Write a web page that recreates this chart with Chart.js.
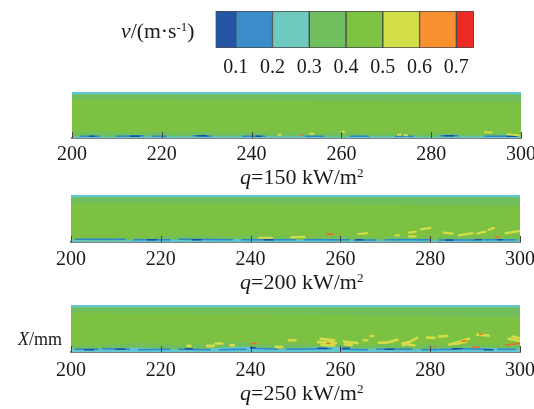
<!DOCTYPE html>
<html><head><meta charset="utf-8">
<script src="https://cdn.jsdelivr.net/npm/chart.js@4"></script>
<style>
html,body{margin:0;padding:0;background:#fff;width:534px;height:409px;overflow:hidden}
canvas{position:absolute;left:0;filter:blur(.45px)}
.t{position:absolute;font-family:"Liberation Serif",serif;color:#1a1a1a;white-space:nowrap;line-height:1}
.t sup{font-size:.6em;line-height:0;vertical-align:baseline;position:relative;top:-.55em}
</style></head><body>
<canvas id="cb" style="top:0" width="534" height="85"></canvas>
<canvas id="p1" style="top:92px" width="570" height="80"></canvas>
<canvas id="p2" style="top:195px" width="570" height="81"></canvas>
<canvas id="p3" style="top:305px" width="570" height="81"></canvas>
<div class="t" style="left:121px;top:21px;font-size:21.7px"><i>v</i>/(m·s<sup>-1</sup>)</div>
<div class="t" style="left:240px;top:166px;font-size:22px"><i>q</i>=150 kW/m<sup>2</sup></div>
<div class="t" style="left:240px;top:271px;font-size:22px"><i>q</i>=200 kW/m<sup>2</sup></div>
<div class="t" style="left:240px;top:382px;font-size:22px"><i>q</i>=250 kW/m<sup>2</sup></div>
<div class="t" style="left:18px;top:330px;font-size:18px"><i>X</i>/mm</div>
<script>
// colour bar
const cbEdges=[0.045,0.1,0.2,0.3,0.4,0.5,0.6,0.7,0.748];
const cbColors=['#2455a4','#3a8ccb','#6ecabf','#70bf5f','#7ec242','#d2df48','#f8912f','#ee2a26'];
const cbTicks=[0.1,0.2,0.3,0.4,0.5,0.6,0.7];
// axis
const xTicks=[200,220,240,260,280,300];
// contour band outlines, sampled along X
const bandX=[200,205,210,215,220,225,230,235,240,245,250,255,260,265,270,275,280,285,290,295,300];
const q150Upper=[.83,.83,.83,.83,.83,.82,.82,.82,.82,.81,.81,.80,.80,.80,.79,.78,.78,.78,.78,.78,.78];
const q150Lower=[.10,.14,.13,.11,.14,.12,.14,.11,.13,.11,.12,.10,.14,.10,.11,.09,.10,.11,.09,.11,.10];
const q150Cyan=[.03,.03,.02,.03,.04,.03,.04,.03,.03,.03,.03,.03,.02,.03,.03,.03,.02,.03,.03,.03,.02];
const q200Upper=[.82,.83,.83,.83,.82,.82,.82,.81,.81,.81,.80,.80,.80,.79,.79,.78,.78,.78,.78,.77,.77];
const q200Lower=[.09,.09,.08,.09,.12,.13,.14,.12,.15,.12,.14,.11,.13,.11,.10,.12,.09,.12,.11,.10,.11];
const q200Cyan=[.04,.03,.03,.04,.06,.04,.04,.06,.05,.04,.04,.04,.03,.04,.03,.04,.03,.04,.05,.04,.03];
const q250Upper=[.84,.84,.83,.83,.83,.83,.82,.82,.81,.81,.80,.79,.79,.78,.77,.77,.76,.76,.75,.75,.75];
const q250Lower=[.15,.14,.17,.19,.17,.15,.17,.21,.19,.16,.18,.15,.19,.14,.17,.14,.16,.14,.17,.14,.19];
const q250Cyan=[.07,.06,.08,.09,.07,.06,.07,.10,.11,.07,.08,.10,.10,.07,.08,.06,.07,.08,.09,.08,.07];
// near-wall and plume streaks: [xStart, xEnd, yStart, yEnd]
const q150Blue=[[202,206,.04,.04],[210,216,.04,.05],[218,221,.04,.04],[227,231,.05,.04],[238,243,.04,.04],[252,256,.04,.04],[262,266,.04,.04],[272,276,.04,.04],[282,286,.05,.05],[292,299,.04,.04]];
const q150Dark=[[204,205,.04,.04],[213,215,.04,.04],[228,230,.05,.05],[241,242,.04,.04],[283,285,.05,.05],[297,299,.04,.04]];
const q150Yellow=[[253,253.8,.09,.09],[260,260.6,.13,.13],[272.5,273.2,.07,.07],[274,274.6,.06,.06],[292,293.5,.13,.12],[297,299.5,.08,.06],[246,246.5,.07,.07]];
const q150Hot=[[251,251.3,.06,.06]];
const q200Blue=[[201,212,.06,.06],[214,222,.05,.05],[224,236,.06,.05],[238,250,.05,.05],[252,262,.05,.05],[263,268,.04,.04],[270,280,.05,.05],[282,290,.04,.04],[292,299,.05,.05]];
const q200Dark=[[217,219,.05,.05],[227,229,.05,.05],[243,245,.05,.05],[263.5,265,.05,.05],[283.5,285,.04,.04],[290,291.5,.05,.05],[295,296,.05,.05]];
const q200Yellow=[[264,266,.17,.19],[275.3,276.8,.2,.22],[275.3,276.8,.12,.12],[277.9,280,.27,.30],[272.3,273,.14,.14],[283,285,.2,.18],[286.4,289.4,.14,.19],[290.5,292.3,.18,.22],[293,294.2,.26,.30],[296.8,299.8,.19,.23],[241.8,244.8,.09,.09],[249,252,.1,.11]];
const q200Hot=[[257,258.4,.165,.165],[294.5,295.3,.107,.107]];
const q250Blue=[[201,206,.06,.06],[207,213,.07,.06],[215,222,.05,.06],[224,231,.06,.05],[233,239,.05,.06],[240,246,.08,.06],[248,258,.06,.07],[260,266,.06,.05],[268,276,.06,.06],[278,286,.05,.06],[287,293,.07,.06],[295,299,.06,.06]];
const q250Dark=[[203,205,.05,.05],[210,212,.06,.06],[225.5,227,.07,.07],[240,241,.09,.09],[255,257,.08,.08],[260.5,262,.08,.08],[270,272,.06,.06],[285,287,.07,.07],[292,294,.05,.05]];
const q250Yellow=[[226,226.6,.13,.13],[230.3,231.8,.13,.13],[232.2,233.7,.18,.18],[235.5,236.3,.14,.14],[245.6,247,.11,.11],[248.5,250,.25,.25],[255.6,258.6,.28,.25],[255,259,.21,.19],[255.8,258.6,.15,.14],[260.8,263.8,.22,.19],[261,262.5,.16,.15],[265.2,266,.25,.25],[266.7,267.3,.34,.34],[268.6,270.5,.2,.2],[270.5,272.7,.2,.26],[273.8,275.5,.18,.22],[274,277.1,.14,.3],[274.5,276.5,.17,.14],[279.3,281,.31,.3],[282,283.8,.33,.34],[284.2,286,.16,.2],[286,288.6,.2,.28],[285.5,288,.17,.22],[290.5,293,.37,.35],[297.5,299.8,.28,.24],[298.3,299.8,.33,.3]];
const q250Hot=[[240.3,241.3,.18,.18],[257,257.6,.18,.18],[287,288,.23,.24],[289.4,290.8,.1,.1],[291,291.6,.38,.38],[296.8,299.8,.15,.18],[280.8,281.2,.11,.11]];

const COL={main:'#7cc142',band:'#71bf5c',cyan:'#62c5cf',blue:'#2f86c8',dark:'#1d4ea0',yellow:'#d3dd47',hot:'#f2652b'};
const inwardTicks={id:'inwardTicks',afterDatasetsDraw(c){
  const x=c.scales.x,ctx=c.ctx,b=c.chartArea.bottom;
  ctx.save();ctx.strokeStyle='#444';ctx.lineWidth=1;
  x.ticks.forEach((t,i)=>{const p=Math.round(x.getPixelForTick(i))+.5;ctx.beginPath();ctx.moveTo(p,b);ctx.lineTo(p,b-6);ctx.stroke();});
  ctx.restore();
}};
function segs(list){const pts=[];list.forEach(s=>{pts.push({x:s[0],y:s[2]},{x:s[1],y:s[3]},{x:s[1],y:null});});return pts;}
function curve(ys){return ys.map((y,i)=>({x:bandX[i],y}));}
function streak(list,color,w){return {data:segs(list),borderColor:color,borderWidth:w,pointRadius:0,fill:false,borderCapStyle:'round',showLine:true};}
function area(data,color,fill,tension){return {data,borderColor:color,backgroundColor:color,borderWidth:0,pointRadius:0,fill,showLine:true,tension:tension||0};}
function panel(id,upper,lower,cyan,blue,dark,yellow,hot,left,right,pad,yw){
  new Chart(document.getElementById(id),{type:'scatter',
    data:{datasets:[
      streak(hot,COL.hot,1.5),
      streak(yellow,COL.yellow,yw),
      streak(dark,COL.dark,1.5),
      streak(blue,COL.blue,1.5),
      area(curve(cyan),COL.cyan,'origin',.4),
      area(curve(lower),COL.band,'origin',.4),
      area([{x:200,y:.95},{x:300,y:.95}],COL.cyan,'end'),
      area(curve(upper),COL.band,'end',0),
      area([{x:200,y:0},{x:300,y:0}],COL.main,'end')
    ]},
    options:{responsive:false,animation:false,events:[],
      layout:{padding:{left,right,top:0,bottom:0}},
      plugins:{legend:{display:false},tooltip:{enabled:false},filler:{drawTime:'beforeDatasetDraw'}},
      scales:{
        x:{type:'linear',min:200,max:300,
          afterBuildTicks:s=>{s.ticks=xTicks.map(v=>({value:v}));},
          afterFit:s=>{s.height=34;},
          grid:{display:true,drawOnChartArea:false,drawTicks:false,color:'#444'},
          border:{display:true,color:'#7f7f7f',width:2},
          ticks:{maxRotation:0,autoSkip:false,padding:pad,color:'#1a1a1a',font:{family:'Liberation Serif',size:20}}},
        y:{type:'linear',min:0,max:1,display:false}
      }},
    plugins:[inwardTicks]});
}
panel('p1',q150Upper,q150Lower,q150Cyan,q150Blue,q150Dark,q150Yellow,q150Hot,72,49,5,2);
panel('p2',q200Upper,q200Lower,q200Cyan,q200Blue,q200Dark,q200Yellow,q200Hot,71,50,6,2.2);
panel('p3',q250Upper,q250Lower,q250Cyan,q250Blue,q250Dark,q250Yellow,q250Hot,71,50,7,2.6);

// colour bar chart
new Chart(document.getElementById('cb'),{type:'bar',
  data:{labels:['v'],datasets:cbColors.map((c,i)=>({data:[[cbEdges[i],cbEdges[i+1]]],backgroundColor:c,borderColor:'#4a4a4a',borderWidth:1,borderSkipped:false,barPercentage:1,categoryPercentage:1,grouped:false}))},
  options:{indexAxis:'y',responsive:false,animation:false,events:[],
    layout:{padding:{left:215.5,right:60,top:11,bottom:0}},
    plugins:{legend:{display:false},tooltip:{enabled:false}},
    scales:{
      x:{type:'linear',min:cbEdges[0],max:cbEdges[cbEdges.length-1],
        afterBuildTicks:s=>{s.ticks=cbTicks.map(v=>({value:v}));},
        afterFit:s=>{s.height=37;},
        grid:{display:false},border:{display:false},
        ticks:{maxRotation:0,autoSkip:false,padding:0,color:'#1a1a1a',font:{family:'Liberation Serif',size:20},callback:v=>v.toFixed(1)}},
      y:{display:false}
    }}});
</script>
</body></html>
